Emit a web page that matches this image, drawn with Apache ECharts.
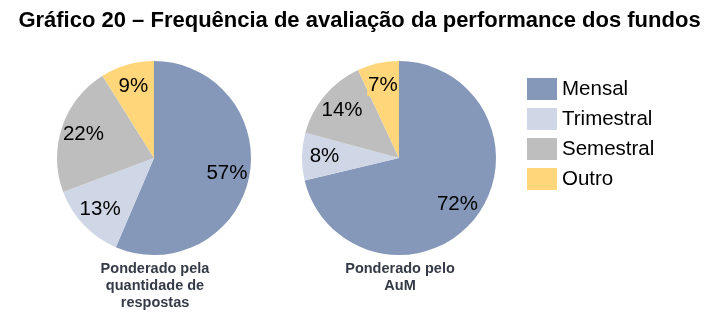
<!DOCTYPE html>
<html><head><meta charset="utf-8">
<script src="https://cdn.jsdelivr.net/npm/echarts@6/dist/echarts.min.js"></script>
<style>html,body{margin:0;padding:0;background:#fff}#c{width:719px;height:323px}</style>
</head><body><div id="c"></div>
<script>
const categories = ['Mensal', 'Trimestral', 'Semestral', 'Outro'];
const valuesRespostas = [57, 13, 22, 9];
const valuesAuM = [72, 8, 14, 7];
const colors = ['#8598BA', '#CFD6E5', '#BEBEBE', '#FFD77A'];
const title = 'Gráfico 20 – Frequência de avaliação da performance dos fundos';
const subLeft = 'Ponderado pela\nquantidade de\nrespostas';
const subRight = 'Ponderado pelo\nAuM';

function fillData(vals) {
  return categories.map((n, i) => ({ name: n, value: vals[i], itemStyle: { color: colors[i] } }));
}
function labelData(vals, bgIdx) {
  return categories.map((n, i) => ({
    name: n, value: vals[i],
    label: i === bgIdx ? { backgroundColor: colors[i], padding: [1, 1, 0, 1] } : {}
  }));
}
const R = 97;
function pieSeries(center, vals, bgIdx) {
  return [
    {
      type: 'pie', center: center, radius: [0, R], startAngle: 90, clockwise: true,
      silent: true, label: { show: false }, labelLine: { show: false },
      itemStyle: { borderWidth: 0 }, data: fillData(vals), animation: false
    },
    {
      type: 'pie', center: center, radius: [46, R], startAngle: 90, clockwise: true,
      silent: true, legendHoverLink: false,
      itemStyle: { color: 'rgba(0,0,0,0)', borderWidth: 0 },
      label: { show: true, position: 'inside', formatter: '{c}%', color: '#000',
               fontSize: 20.5, fontFamily: 'Liberation Sans, Arial, sans-serif' },
      labelLine: { show: false }, data: labelData(vals, bgIdx), animation: false
    }
  ];
}
const chart = echarts.init(document.getElementById('c'), null, { renderer: 'canvas' });
chart.setOption({
  animation: false,
  color: colors,
  title: [
    { text: title, left: 'center', top: 10, padding: 0,
      textStyle: { fontSize: 22, fontWeight: 'bold', color: '#000', fontFamily: 'Liberation Sans, Arial, sans-serif' } },
    { text: subLeft, left: 155, top: 260, textAlign: 'center', padding: 0,
      textStyle: { fontSize: 14.5, fontWeight: 'bold', color: '#343B47', lineHeight: 17, fontFamily: 'Liberation Sans, Arial, sans-serif' } },
    { text: subRight, left: 400, top: 260, textAlign: 'center', padding: 0,
      textStyle: { fontSize: 14.5, fontWeight: 'bold', color: '#343B47', lineHeight: 17, fontFamily: 'Liberation Sans, Arial, sans-serif' } }
  ],
  legend: {
    data: categories, orient: 'vertical', left: 527, top: 78, padding: 0,
    itemWidth: 30, itemHeight: 22, itemGap: 8, icon: 'rect', selectedMode: false,
    textStyle: { fontSize: 20.5, color: '#000', fontFamily: 'Liberation Sans, Arial, sans-serif' }
  },
  series: [].concat(pieSeries([154, 158], valuesRespostas, -1), pieSeries([399, 158], valuesAuM, 3))
});
</script></body></html>
